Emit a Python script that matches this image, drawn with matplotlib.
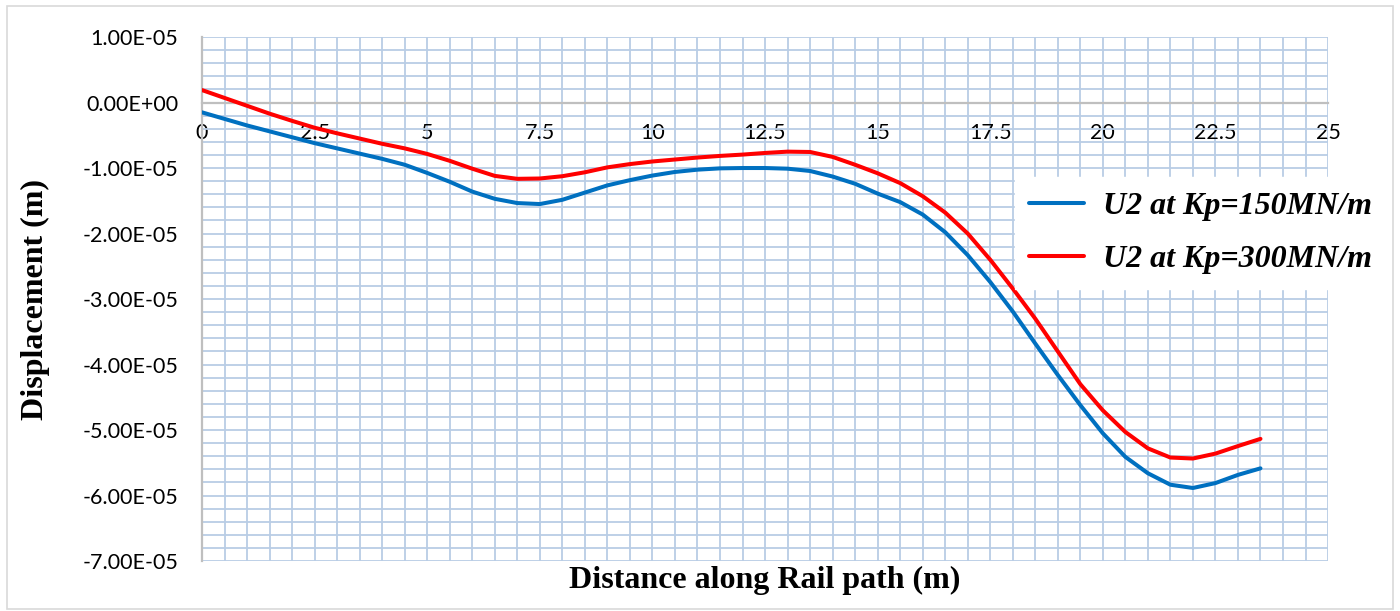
import matplotlib
matplotlib.use("Agg")
import matplotlib.pyplot as plt
from matplotlib.patches import Rectangle
from matplotlib.ticker import MultipleLocator

# Distance along rail path (m)
distance = [0, 0.5, 1, 1.5, 2, 2.5, 3, 3.5, 4, 4.5, 5, 5.5, 6, 6.5, 7, 7.5,
            8, 8.5, 9, 9.5, 10, 10.5, 11, 11.5, 12, 12.5, 13, 13.5, 14, 14.5,
            15, 15.5, 16, 16.5, 17, 17.5, 18, 18.5, 19, 19.5, 20, 20.5, 21,
            21.5, 22, 22.5, 23, 23.5]

# U2 displacement in units of 1e-5 m
u2_kp150 = [-0.15, -0.25, -0.35, -0.44, -0.53, -0.62, -0.70, -0.78, -0.86,
            -0.95, -1.075, -1.21, -1.36, -1.47, -1.535, -1.55, -1.485, -1.375,
            -1.265, -1.185, -1.115, -1.06, -1.025, -1.005, -1.0, -1.0, -1.01,
            -1.045, -1.13, -1.24, -1.39, -1.52, -1.71, -1.98, -2.33, -2.74,
            -3.19, -3.68, -4.16, -4.62, -5.05, -5.41, -5.66, -5.835, -5.885,
            -5.81, -5.685, -5.585]
u2_kp300 = [0.19, 0.07, -0.05, -0.17, -0.28, -0.385, -0.47, -0.55, -0.63,
            -0.70, -0.785, -0.89, -1.01, -1.12, -1.165, -1.16, -1.125, -1.065,
            -0.99, -0.94, -0.90, -0.87, -0.84, -0.815, -0.795, -0.77, -0.75,
            -0.755, -0.83, -0.95, -1.08, -1.23, -1.43, -1.68, -2.0, -2.4,
            -2.84, -3.3, -3.8, -4.3, -4.7, -5.03, -5.28, -5.42, -5.435,
            -5.36, -5.245, -5.135]

series_labels = ["U2 at Kp=150MN/m", "U2 at Kp=300MN/m"]
series_colors = ["#0070C0", "#FF0000"]

x_ticks = [0, 2.5, 5, 7.5, 10, 12.5, 15, 17.5, 20, 22.5, 25]
x_tick_labels = ["0", "2.5", "5", "7.5", "10", "12.5", "15", "17.5", "20", "22.5", "25"]
y_ticks = [1e-5, 0, -1e-5, -2e-5, -3e-5, -4e-5, -5e-5, -6e-5, -7e-5]

grid_color = "#B9CDE5"
axis_gray = "#BFBFBF"

fig = plt.figure(figsize=(14, 6.11), dpi=100)
ax = fig.add_axes([0.1443, 0.0818, 0.8043, 0.8576])

# Chart border
fig.patches.append(Rectangle((0.005, 0.004), 0.99, 0.986, transform=fig.transFigure,
                             fill=False, edgecolor="#D9D9D9", linewidth=1.2))

ys = [[v * 1e-5 for v in u2_kp150], [v * 1e-5 for v in u2_kp300]]
for vals, lab, col in zip(ys, series_labels, series_colors):
    ax.plot(distance, vals, color=col, linewidth=2.9, label=lab,
            solid_capstyle="round", solid_joinstyle="round", zorder=3)

ax.set_xlim(0, 25)
ax.set_ylim(-7e-5, 1e-5)

ax.set_xticks(x_ticks)
ax.set_xticklabels(x_tick_labels)
ax.xaxis.set_minor_locator(MultipleLocator(0.5))
ax.set_yticks(y_ticks)
ax.set_yticklabels([f"{v:.2E}" for v in y_ticks])
ax.yaxis.set_minor_locator(MultipleLocator(2e-6))

ax.grid(True, which="both", color=grid_color, linewidth=1.3, zorder=0)
ax.set_axisbelow(True)

for side in ["top", "right"]:
    ax.spines[side].set_visible(False)
ax.spines["bottom"].set_position(("data", 0))
ax.spines["bottom"].set_color(axis_gray)
ax.spines["bottom"].set_linewidth(1.6)
ax.spines["bottom"].set_zorder(2)
ax.spines["left"].set_color(axis_gray)
ax.spines["left"].set_linewidth(1.6)

ax.tick_params(which="both", length=0)
ax.tick_params(axis="x", pad=15, labelsize=15.5)
ax.tick_params(axis="y", pad=17, labelsize=15.5)
for lbl in ax.get_xticklabels() + ax.get_yticklabels():
    lbl.set_fontfamily("Lato")

ax.set_xlabel("Distance along Rail path (m)", fontsize=23, fontweight="bold",
              fontfamily="Liberation Serif")
ax.xaxis.set_label_coords(0.5, -0.01)
ax.set_ylabel("Displacement (m)", fontsize=23, fontweight="bold",
              fontfamily="Liberation Serif")
ax.yaxis.set_label_coords(-0.135, 0.5)

leg = ax.legend(loc="upper left", bbox_to_anchor=(0.725, 0.71),
                bbox_transform=fig.transFigure, borderaxespad=0,
                frameon=True, fancybox=False, handlelength=1.7,
                handletextpad=0.6, labelspacing=0.75, borderpad=0.45,
                prop={"family": "Liberation Serif", "weight": "bold",
                      "style": "italic", "size": 23})
leg.get_frame().set_facecolor("white")
leg.get_frame().set_edgecolor("white")
leg.get_frame().set_alpha(1)
leg.set_zorder(5)

fig.savefig("out.png", dpi=100)
